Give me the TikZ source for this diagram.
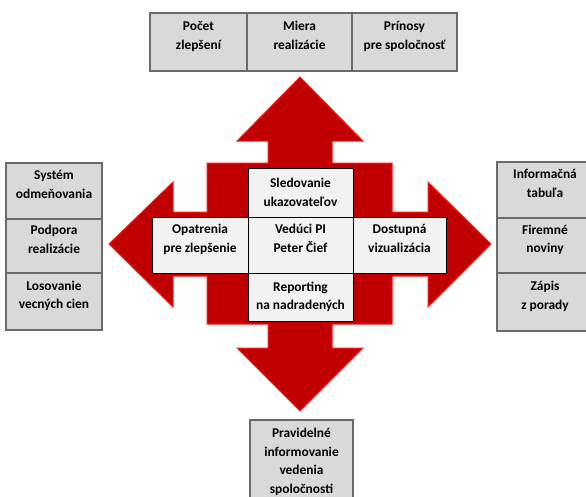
\documentclass[tikz,border=0pt]{standalone}
\usepackage{fontspec}
\setmainfont{Carlito}
\usetikzlibrary{positioning}
\definecolor{arrowred}{HTML}{C00000}
\definecolor{edgered}{HTML}{FF1A1A}
\definecolor{outerfill}{HTML}{D9D9D9}
\definecolor{outeredge}{HTML}{6A6A6A}
\definecolor{innerfill}{HTML}{F2F2F2}
\tikzset{
  every node/.style={font=\fontsize{13.4}{18.5}\selectfont\bfseries, align=center,
    inner sep=0pt, outer sep=0pt},
  outerbox/.style={draw=outeredge, line width=1.2pt, fill=outerfill, minimum width=96},
  innerbox/.style={draw=black, line width=0.8pt, fill=innerfill},
  lift/.style={text depth=13pt}
}

\begin{document}
\begin{tikzpicture}[x=1pt, y=-1pt]
  \useasboundingbox (0,0) rectangle (586,496);

  % red cross of arrows
  \draw [draw=edgered, fill=arrowred, line width=1pt, line join=miter]
    (300,77) -- (363,141) -- (332,141) -- (332,163) -- (392,163) -- (392,212)
    -- (428,212) -- (428,182) -- (491,244) -- (428,307) -- (428,276) -- (392,276)
    -- (392,324) -- (332,324) -- (332,348) -- (363,348) -- (300,411) -- (237,348)
    -- (268,348) -- (268,324) -- (207,324) -- (207,276) -- (173,276) -- (173,307)
    -- (109,244) -- (173,182) -- (173,212) -- (207,212) -- (207,163) -- (268,163)
    -- (268,141) -- (237,141) -- cycle;

  \node [innerbox, lift, minimum width=105, minimum height=56] (pi) at (300.5,245) {Vedúci PI\\Peter Čief};
  \node [innerbox, above=0pt of pi, minimum width=105, minimum height=49] (sled) {Sledovanie\\ukazovateľov};
  \node [innerbox, below=0pt of pi, minimum width=105, minimum height=48] (rep) {Reporting\\na nadradených};
  \node [innerbox, lift, left=0pt of pi, minimum width=96, minimum height=56] (opat) {Opatrenia\\pre zlepšenie};
  \node [innerbox, lift, right=0pt of pi, minimum width=93, minimum height=56] (dost) {Dostupná\\vizualizácia};

  \node [outerbox, lift, minimum width=105, minimum height=58] (miera) at (299.5,42) {Miera\\realizácie};
  \node [outerbox, lift, left=0pt of miera, minimum width=97, minimum height=58] (pocet) {Počet\\zlepšení};
  \node [outerbox, lift, right=0pt of miera, minimum width=105, minimum height=58] (prin) {Prínosy\\pre spoločnosť};

  \node [outerbox, lift, minimum height=54] (podp) at (54,246) {Podpora\\realizácie};
  \node [outerbox, lift, above=0pt of podp, minimum height=56] (sys) {Systém\\odmeňovania};
  \node [outerbox, lift, below=0pt of podp, minimum height=57] (los) {Losovanie\\vecných cien};

  \node [outerbox, lift, minimum height=55] (nov) at (545,245.5) {Firemné\\noviny};
  \node [outerbox, lift, above=0pt of nov, minimum height=56] (tab) {Informačná\\tabuľa};
  \node [outerbox, lift, below=0pt of nov, minimum height=58] (zap) {Zápis\\z porady};

  \node [outerbox, minimum width=103, minimum height=84] (prav) at (301.5,462) {Pravidelné\\informovanie\\vedenia\\spoločnosti};

\end{tikzpicture}
\end{document}
